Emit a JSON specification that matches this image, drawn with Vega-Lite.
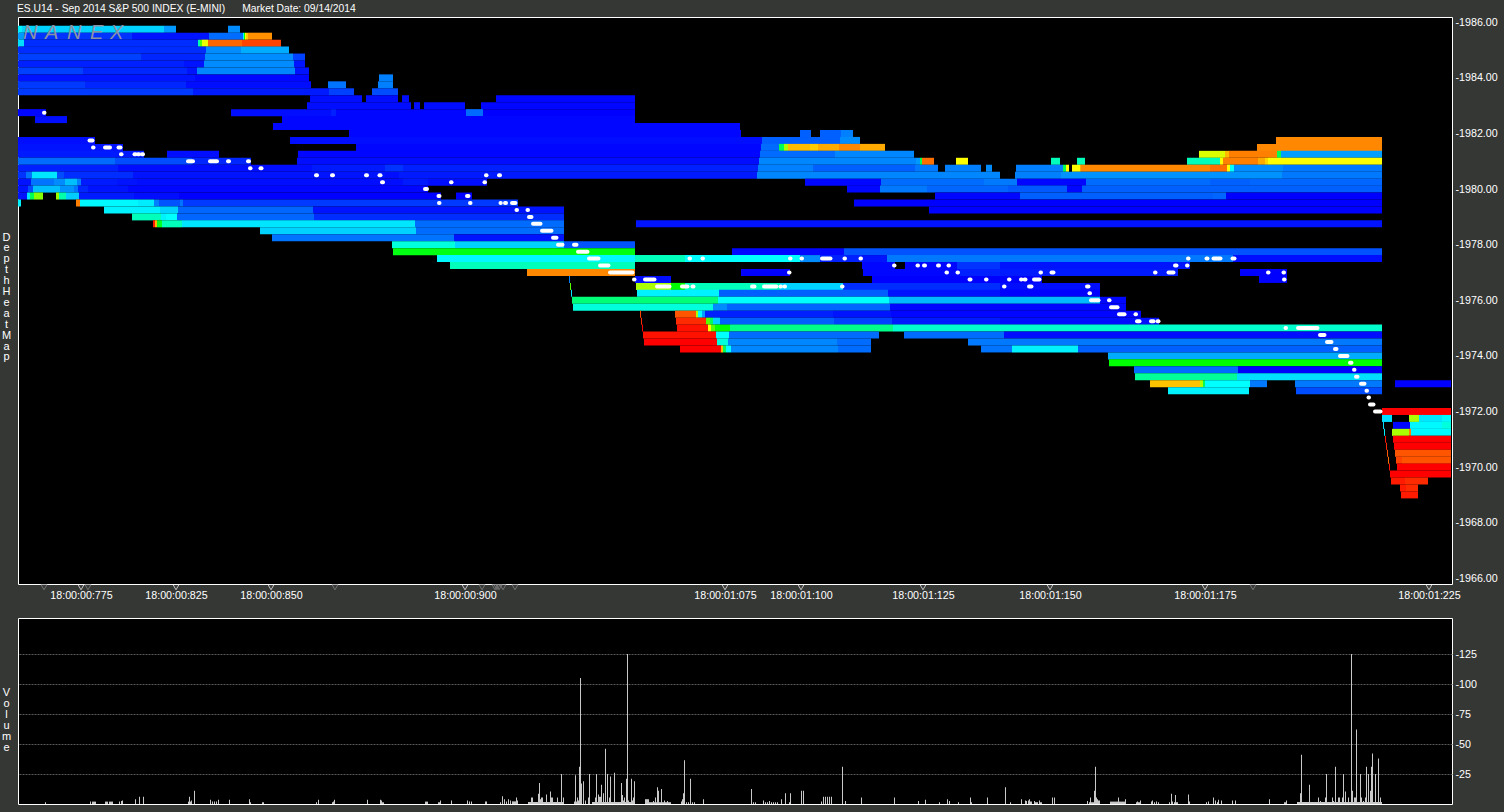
{"$schema":"https://vega.github.io/schema/vega-lite/v6.json","background":"#353735","padding":{"left":0,"top":3,"right":7,"bottom":7},"bounds":"flush","spacing":34,"config":{"view":{"fill":"#000000","stroke":"#ffffff","strokeWidth":1},"font":"Liberation Sans"},
"datasets":{
"depth":[
{"p":1985.75,"a":18,"b":22,"d":38},{"p":1985.75,"a":22,"b":164,"d":33},{"p":1985.75,"a":164,"b":176,"d":24},{"p":1985.75,"a":228,"b":240,"d":22},
{"p":1985.5,"a":18,"b":24,"d":24},{"p":1985.5,"a":24,"b":132,"d":8},{"p":1985.5,"a":132,"b":209,"d":3},{"p":1985.5,"a":209,"b":243,"d":17},{"p":1985.5,"a":243,"b":244,"d":40},{"p":1985.5,"a":244,"b":245,"d":55},{"p":1985.5,"a":245,"b":246,"d":70},{"p":1985.5,"a":246,"b":248,"d":76},{"p":1985.5,"a":248,"b":272,"d":83},
{"p":1985.25,"a":18,"b":24,"d":35},{"p":1985.25,"a":24,"b":198,"d":7},{"p":1985.25,"a":198,"b":200,"d":45},{"p":1985.25,"a":200,"b":202,"d":60},{"p":1985.25,"a":202,"b":208,"d":69},{"p":1985.25,"a":208,"b":242,"d":88},{"p":1985.25,"a":242,"b":281,"d":92},
{"p":1985,"a":18,"b":206,"d":7},{"p":1985,"a":206,"b":241,"d":22},{"p":1985,"a":241,"b":289,"d":27},
{"p":1984.75,"a":18,"b":141,"d":10},{"p":1984.75,"a":141,"b":205,"d":6},{"p":1984.75,"a":205,"b":293,"d":22},{"p":1984.75,"a":293,"b":305,"d":10},
{"p":1984.5,"a":18,"b":184,"d":5},{"p":1984.5,"a":184,"b":204,"d":3},{"p":1984.5,"a":204,"b":294,"d":22},{"p":1984.5,"a":294,"b":305,"d":3},
{"p":1984.25,"a":18,"b":83,"d":10},{"p":1984.25,"a":83,"b":187,"d":6},{"p":1984.25,"a":187,"b":197,"d":3},{"p":1984.25,"a":197,"b":295,"d":21},{"p":1984.25,"a":295,"b":309,"d":3},
{"p":1984,"a":18,"b":195,"d":3},{"p":1984,"a":195,"b":309,"d":1},{"p":1984,"a":379,"b":393,"d":20},
{"p":1983.75,"a":18,"b":85,"d":9},{"p":1983.75,"a":85,"b":186,"d":6},{"p":1983.75,"a":186,"b":311,"d":2},{"p":1983.75,"a":328,"b":346,"d":18},{"p":1983.75,"a":378,"b":393,"d":20},
{"p":1983.5,"a":18,"b":193,"d":9},{"p":1983.5,"a":193,"b":329,"d":4},{"p":1983.5,"a":329,"b":354,"d":10},{"p":1983.5,"a":372,"b":398,"d":12},
{"p":1983.25,"a":310,"b":362,"d":2},{"p":1983.25,"a":366,"b":398,"d":2},{"p":1983.25,"a":402,"b":409,"d":2},{"p":1983.25,"a":496,"b":635,"d":1},
{"p":1983,"a":307,"b":411,"d":2},{"p":1983,"a":414,"b":420,"d":2},{"p":1983,"a":424,"b":465,"d":2},{"p":1983,"a":481,"b":635,"d":1},
{"p":1982.75,"a":18,"b":46,"d":1},{"p":1982.75,"a":231,"b":331,"d":2},{"p":1982.75,"a":331,"b":336,"d":5},{"p":1982.75,"a":336,"b":466,"d":1},{"p":1982.75,"a":466,"b":483,"d":17},{"p":1982.75,"a":483,"b":635,"d":0},
{"p":1982.5,"a":35,"b":67,"d":2},{"p":1982.5,"a":282,"b":635,"d":1},
{"p":1982.25,"a":273,"b":740,"d":1},
{"p":1982,"a":349,"b":741,"d":1},{"p":1982,"a":800,"b":811,"d":15},{"p":1982,"a":820,"b":841,"d":15},{"p":1982,"a":841,"b":853,"d":20},
{"p":1981.75,"a":18,"b":95,"d":2},{"p":1981.75,"a":290,"b":762,"d":2},{"p":1981.75,"a":762,"b":840,"d":15},{"p":1981.75,"a":840,"b":860,"d":22},{"p":1981.75,"a":1276,"b":1382,"d":84},
{"p":1981.5,"a":18,"b":123,"d":3},{"p":1981.5,"a":356,"b":761,"d":1},{"p":1981.5,"a":761,"b":779,"d":17},{"p":1981.5,"a":779,"b":784,"d":50},{"p":1981.5,"a":784,"b":788,"d":65},{"p":1981.5,"a":788,"b":810,"d":78},{"p":1981.5,"a":810,"b":818,"d":76},{"p":1981.5,"a":818,"b":839,"d":80},{"p":1981.5,"a":839,"b":860,"d":84},{"p":1981.5,"a":860,"b":885,"d":80},{"p":1981.5,"a":1257,"b":1382,"d":84},
{"p":1981.25,"a":18,"b":144,"d":4},{"p":1981.25,"a":167,"b":219,"d":2},{"p":1981.25,"a":298,"b":760,"d":1},{"p":1981.25,"a":760,"b":835,"d":17},{"p":1981.25,"a":835,"b":914,"d":21},{"p":1981.25,"a":1199,"b":1225,"d":68},{"p":1981.25,"a":1225,"b":1229,"d":78},{"p":1981.25,"a":1229,"b":1277,"d":85},{"p":1981.25,"a":1277,"b":1281,"d":50},{"p":1981.25,"a":1281,"b":1382,"d":25},
{"p":1981,"a":18,"b":115,"d":17},{"p":1981,"a":115,"b":192,"d":12},{"p":1981,"a":192,"b":251,"d":6},{"p":1981,"a":297,"b":759,"d":2},{"p":1981,"a":759,"b":916,"d":21},{"p":1981,"a":916,"b":920,"d":24},{"p":1981,"a":920,"b":922,"d":50},{"p":1981,"a":922,"b":934,"d":87},{"p":1981,"a":956,"b":968,"d":70},{"p":1981,"a":1051,"b":1060,"d":44},{"p":1981,"a":1077,"b":1085,"d":44},{"p":1981,"a":1187,"b":1220,"d":44},{"p":1981,"a":1220,"b":1223,"d":70},{"p":1981,"a":1223,"b":1258,"d":85},{"p":1981,"a":1258,"b":1265,"d":80},{"p":1981,"a":1265,"b":1268,"d":75},{"p":1981,"a":1268,"b":1382,"d":70},
{"p":1980.75,"a":18,"b":118,"d":5},{"p":1980.75,"a":118,"b":312,"d":2},{"p":1980.75,"a":312,"b":385,"d":4},{"p":1980.75,"a":385,"b":403,"d":8},{"p":1980.75,"a":403,"b":758,"d":5},{"p":1980.75,"a":758,"b":813,"d":20},{"p":1980.75,"a":813,"b":915,"d":15},{"p":1980.75,"a":915,"b":938,"d":19},{"p":1980.75,"a":945,"b":981,"d":20},{"p":1980.75,"a":986,"b":992,"d":22},{"p":1980.75,"a":1016,"b":1063,"d":20},{"p":1980.75,"a":1063,"b":1066,"d":50},{"p":1980.75,"a":1066,"b":1069,"d":70},{"p":1980.75,"a":1072,"b":1080,"d":70},{"p":1980.75,"a":1080,"b":1081,"d":80},{"p":1980.75,"a":1081,"b":1210,"d":84},{"p":1980.75,"a":1210,"b":1227,"d":87},{"p":1980.75,"a":1227,"b":1230,"d":70},{"p":1980.75,"a":1230,"b":1234,"d":40},{"p":1980.75,"a":1234,"b":1283,"d":22},{"p":1980.75,"a":1283,"b":1382,"d":19},
{"p":1980.5,"a":18,"b":26,"d":8},{"p":1980.5,"a":26,"b":32,"d":18},{"p":1980.5,"a":32,"b":57,"d":36},{"p":1980.5,"a":57,"b":64,"d":12},{"p":1980.5,"a":64,"b":133,"d":7},{"p":1980.5,"a":133,"b":385,"d":3},{"p":1980.5,"a":385,"b":399,"d":2},{"p":1980.5,"a":399,"b":757,"d":4},{"p":1980.5,"a":757,"b":1000,"d":21},{"p":1980.5,"a":1015,"b":1061,"d":20},{"p":1980.5,"a":1061,"b":1282,"d":23},{"p":1980.5,"a":1282,"b":1382,"d":19},
{"p":1980.25,"a":18,"b":31,"d":3},{"p":1980.25,"a":31,"b":54,"d":18},{"p":1980.25,"a":54,"b":65,"d":22},{"p":1980.25,"a":65,"b":77,"d":30},{"p":1980.25,"a":77,"b":81,"d":20},{"p":1980.25,"a":81,"b":117,"d":4},{"p":1980.25,"a":117,"b":137,"d":3},{"p":1980.25,"a":137,"b":403,"d":2},{"p":1980.25,"a":403,"b":428,"d":4},{"p":1980.25,"a":428,"b":487,"d":2},{"p":1980.25,"a":805,"b":881,"d":1},{"p":1980.25,"a":881,"b":984,"d":17},{"p":1980.25,"a":984,"b":1017,"d":19},{"p":1980.25,"a":1017,"b":1086,"d":1},{"p":1980.25,"a":1086,"b":1210,"d":17},{"p":1980.25,"a":1210,"b":1250,"d":15},{"p":1980.25,"a":1250,"b":1382,"d":16},
{"p":1980,"a":18,"b":28,"d":3},{"p":1980,"a":28,"b":33,"d":12},{"p":1980,"a":33,"b":60,"d":30},{"p":1980,"a":60,"b":74,"d":23},{"p":1980,"a":74,"b":78,"d":18},{"p":1980,"a":78,"b":88,"d":6},{"p":1980,"a":88,"b":128,"d":3},{"p":1980,"a":128,"b":428,"d":1},{"p":1980,"a":847,"b":880,"d":1},{"p":1980,"a":880,"b":927,"d":19},{"p":1980,"a":927,"b":1008,"d":16},{"p":1980,"a":1008,"b":1067,"d":14},{"p":1980,"a":1067,"b":1082,"d":1},{"p":1980,"a":1082,"b":1382,"d":15},
{"p":1979.75,"a":18,"b":27,"d":3},{"p":1979.75,"a":27,"b":30,"d":36},{"p":1979.75,"a":30,"b":34,"d":50},{"p":1979.75,"a":34,"b":43,"d":63},{"p":1979.75,"a":56,"b":59,"d":64},{"p":1979.75,"a":59,"b":66,"d":45},{"p":1979.75,"a":66,"b":79,"d":32},{"p":1979.75,"a":79,"b":134,"d":4},{"p":1979.75,"a":134,"b":179,"d":2},{"p":1979.75,"a":179,"b":441,"d":0},{"p":1979.75,"a":456,"b":472,"d":0},{"p":1979.75,"a":935,"b":1020,"d":1},{"p":1979.75,"a":1020,"b":1213,"d":15},{"p":1979.75,"a":1213,"b":1226,"d":16},{"p":1979.75,"a":1226,"b":1382,"d":0},
{"p":1979.5,"a":18,"b":21,"d":38},{"p":1979.5,"a":76,"b":80,"d":85},{"p":1979.5,"a":80,"b":138,"d":39},{"p":1979.5,"a":138,"b":154,"d":37},{"p":1979.5,"a":154,"b":159,"d":20},{"p":1979.5,"a":159,"b":180,"d":13},{"p":1979.5,"a":180,"b":183,"d":18},{"p":1979.5,"a":183,"b":518,"d":9},{"p":1979.5,"a":854,"b":1382,"d":0},
{"p":1979.25,"a":104,"b":160,"d":38},{"p":1979.25,"a":160,"b":178,"d":33},{"p":1979.25,"a":178,"b":313,"d":16},{"p":1979.25,"a":313,"b":564,"d":3},{"p":1979.25,"a":929,"b":1382,"d":0},
{"p":1979,"a":132,"b":161,"d":44},{"p":1979,"a":161,"b":166,"d":38},{"p":1979,"a":166,"b":177,"d":40},{"p":1979,"a":177,"b":314,"d":16},{"p":1979,"a":314,"b":564,"d":7},
{"p":1978.75,"a":153,"b":155,"d":97},{"p":1978.75,"a":155,"b":157,"d":78},{"p":1978.75,"a":157,"b":162,"d":53},{"p":1978.75,"a":162,"b":182,"d":44},{"p":1978.75,"a":182,"b":415,"d":36},{"p":1978.75,"a":415,"b":564,"d":17},{"p":1978.75,"a":636,"b":1382,"d":3},
{"p":1978.5,"a":260,"b":416,"d":33},{"p":1978.5,"a":416,"b":564,"d":17},
{"p":1978.25,"a":272,"b":454,"d":18},{"p":1978.25,"a":454,"b":564,"d":3},
{"p":1978,"a":392,"b":455,"d":42},{"p":1978,"a":455,"b":557,"d":33},{"p":1978,"a":557,"b":564,"d":30},{"p":1978,"a":564,"b":635,"d":13},
{"p":1977.75,"a":393,"b":635,"d":54},{"p":1977.75,"a":732,"b":844,"d":1},{"p":1977.75,"a":844,"b":1382,"d":13},
{"p":1977.5,"a":437,"b":635,"d":39},{"p":1977.5,"a":635,"b":685,"d":44},{"p":1977.5,"a":685,"b":800,"d":40},{"p":1977.5,"a":800,"b":820,"d":22},{"p":1977.5,"a":820,"b":862,"d":5},{"p":1977.5,"a":862,"b":887,"d":3},{"p":1977.5,"a":887,"b":1233,"d":19},{"p":1977.5,"a":1233,"b":1382,"d":2},
{"p":1977.25,"a":450,"b":635,"d":44},{"p":1977.25,"a":862,"b":895,"d":1},{"p":1977.25,"a":905,"b":957,"d":1},{"p":1977.25,"a":957,"b":1000,"d":8},{"p":1977.25,"a":1000,"b":1190,"d":3},
{"p":1977,"a":527,"b":635,"d":84},{"p":1977,"a":741,"b":790,"d":0},{"p":1977,"a":863,"b":960,"d":1},{"p":1977,"a":960,"b":1000,"d":5},{"p":1977,"a":1000,"b":1178,"d":4},{"p":1977,"a":1240,"b":1287,"d":0},
{"p":1976.75,"a":569,"b":570,"d":20},{"p":1976.75,"a":635,"b":671,"d":2},{"p":1976.75,"a":872,"b":1042,"d":0},{"p":1976.75,"a":1259,"b":1287,"d":0},
{"p":1976.5,"a":570,"b":571,"d":60},{"p":1976.5,"a":636,"b":671,"d":65},{"p":1976.5,"a":671,"b":685,"d":55},{"p":1976.5,"a":685,"b":780,"d":44},{"p":1976.5,"a":780,"b":843,"d":33},{"p":1976.5,"a":843,"b":1000,"d":7},{"p":1976.5,"a":1000,"b":1100,"d":2},
{"p":1976.25,"a":571,"b":572,"d":36},{"p":1976.25,"a":637,"b":719,"d":38},{"p":1976.25,"a":719,"b":888,"d":15},{"p":1976.25,"a":888,"b":1000,"d":3},{"p":1976.25,"a":1000,"b":1100,"d":0},
{"p":1976,"a":572,"b":718,"d":48},{"p":1976,"a":718,"b":889,"d":40},{"p":1976,"a":889,"b":1100,"d":29},{"p":1976,"a":1100,"b":1126,"d":1},
{"p":1975.75,"a":573,"b":713,"d":42},{"p":1975.75,"a":713,"b":727,"d":22},{"p":1975.75,"a":727,"b":890,"d":16},{"p":1975.75,"a":890,"b":1126,"d":1},
{"p":1975.5,"a":640,"b":641,"d":92},{"p":1975.5,"a":675,"b":696,"d":90},{"p":1975.5,"a":696,"b":698,"d":65},{"p":1975.5,"a":698,"b":702,"d":40},{"p":1975.5,"a":702,"b":705,"d":25},{"p":1975.5,"a":705,"b":833,"d":5},{"p":1975.5,"a":833,"b":891,"d":3},{"p":1975.5,"a":891,"b":1141,"d":1},
{"p":1975.25,"a":641,"b":642,"d":95},{"p":1975.25,"a":676,"b":706,"d":95},{"p":1975.25,"a":706,"b":710,"d":60},{"p":1975.25,"a":710,"b":713,"d":50},{"p":1975.25,"a":713,"b":720,"d":33},{"p":1975.25,"a":720,"b":834,"d":15},{"p":1975.25,"a":834,"b":892,"d":10},{"p":1975.25,"a":892,"b":1000,"d":4},{"p":1975.25,"a":1000,"b":1159,"d":2},
{"p":1975,"a":642,"b":643,"d":100},{"p":1975,"a":677,"b":708,"d":98},{"p":1975,"a":708,"b":711,"d":70},{"p":1975,"a":711,"b":715,"d":60},{"p":1975,"a":715,"b":730,"d":55},{"p":1975,"a":730,"b":893,"d":47},{"p":1975,"a":893,"b":1382,"d":43},
{"p":1974.75,"a":643,"b":716,"d":98},{"p":1974.75,"a":716,"b":729,"d":40},{"p":1974.75,"a":729,"b":879,"d":17},{"p":1974.75,"a":904,"b":1004,"d":17},{"p":1974.75,"a":1004,"b":1382,"d":2},
{"p":1974.5,"a":644,"b":717,"d":100},{"p":1974.5,"a":717,"b":728,"d":42},{"p":1974.5,"a":728,"b":837,"d":21},{"p":1974.5,"a":837,"b":871,"d":17},{"p":1974.5,"a":968,"b":1382,"d":19},
{"p":1974.25,"a":680,"b":721,"d":100},{"p":1974.25,"a":721,"b":723,"d":78},{"p":1974.25,"a":723,"b":726,"d":50},{"p":1974.25,"a":726,"b":731,"d":40},{"p":1974.25,"a":731,"b":838,"d":21},{"p":1974.25,"a":838,"b":871,"d":17},{"p":1974.25,"a":981,"b":1012,"d":18},{"p":1974.25,"a":1012,"b":1078,"d":38},{"p":1974.25,"a":1078,"b":1382,"d":15},
{"p":1974,"a":1108,"b":1382,"d":27},
{"p":1973.75,"a":1109,"b":1382,"d":55},
{"p":1973.5,"a":1134,"b":1238,"d":17},{"p":1973.5,"a":1238,"b":1382,"d":0},
{"p":1973.25,"a":1135,"b":1237,"d":46},{"p":1973.25,"a":1237,"b":1382,"d":35},
{"p":1973,"a":1150,"b":1200,"d":77},{"p":1973,"a":1200,"b":1203,"d":65},{"p":1973,"a":1203,"b":1205,"d":50},{"p":1973,"a":1205,"b":1250,"d":40},{"p":1973,"a":1250,"b":1267,"d":19},{"p":1973,"a":1295,"b":1382,"d":19},{"p":1973,"a":1395,"b":1451,"d":0},
{"p":1972.75,"a":1168,"b":1249,"d":38},{"p":1972.75,"a":1296,"b":1382,"d":12},
{"p":1972,"a":1382,"b":1451,"d":100},
{"p":1971.75,"a":1382,"b":1392,"d":35},{"p":1971.75,"a":1409,"b":1419,"d":65},{"p":1971.75,"a":1419,"b":1442,"d":36},{"p":1971.75,"a":1442,"b":1451,"d":39},
{"p":1971.5,"a":1383,"b":1384,"d":35},{"p":1971.5,"a":1393,"b":1410,"d":1},{"p":1971.5,"a":1410,"b":1442,"d":39},{"p":1971.5,"a":1442,"b":1451,"d":42},
{"p":1971.25,"a":1384,"b":1385,"d":38},{"p":1971.25,"a":1392,"b":1409,"d":65},{"p":1971.25,"a":1409,"b":1411,"d":85},{"p":1971.25,"a":1411,"b":1451,"d":39},
{"p":1971,"a":1385,"b":1386,"d":98},{"p":1971,"a":1393,"b":1451,"d":100},
{"p":1970.75,"a":1386,"b":1387,"d":95},{"p":1970.75,"a":1394,"b":1451,"d":100},
{"p":1970.5,"a":1387,"b":1388,"d":90},{"p":1970.5,"a":1395,"b":1451,"d":90},
{"p":1970.25,"a":1388,"b":1389,"d":87},{"p":1970.25,"a":1396,"b":1402,"d":92},{"p":1970.25,"a":1402,"b":1451,"d":90},
{"p":1970,"a":1389,"b":1390,"d":98},{"p":1970,"a":1397,"b":1451,"d":100},
{"p":1969.75,"a":1390,"b":1451,"d":100},
{"p":1969.5,"a":1391,"b":1405,"d":97},{"p":1969.5,"a":1405,"b":1428,"d":95},
{"p":1969.25,"a":1400,"b":1406,"d":97},{"p":1969.25,"a":1406,"b":1418,"d":95},
{"p":1969,"a":1401,"b":1418,"d":97}
],
"trades":[
{"p":1982.75,"a":44,"b":44.5},{"p":1981.75,"a":89.5,"b":92.5},{"p":1981.5,"a":93,"b":93.5},{"p":1981.5,"a":105,"b":110},{"p":1981.5,"a":118.5,"b":120.5},{"p":1981.25,"a":121,"b":121.5},{"p":1981.25,"a":134.5,"b":135.5},{"p":1981.25,"a":138,"b":139},{"p":1981.25,"a":142,"b":143},
{"p":1981,"a":188,"b":193},{"p":1981,"a":210,"b":217},{"p":1981,"a":228,"b":229},{"p":1981,"a":248,"b":249},{"p":1980.75,"a":250,"b":250.5},{"p":1980.75,"a":260.5,"b":261.5},{"p":1980.5,"a":316,"b":317},{"p":1980.5,"a":332,"b":333},{"p":1980.5,"a":366,"b":367},{"p":1980.5,"a":379.5,"b":380.5},{"p":1980.5,"a":486,"b":486.5},{"p":1980.5,"a":499,"b":500},
{"p":1980.25,"a":382,"b":383},{"p":1980.25,"a":451,"b":451.5},{"p":1980.25,"a":484.5,"b":485},{"p":1980,"a":425,"b":427},{"p":1979.75,"a":438.5,"b":439.5},{"p":1979.75,"a":467,"b":468.5},{"p":1979.5,"a":439,"b":439.5},{"p":1979.5,"a":470,"b":470.5},{"p":1979.5,"a":500.5,"b":500.8},{"p":1979.5,"a":505,"b":506},{"p":1979.5,"a":512,"b":515.5},
{"p":1979.25,"a":516.5,"b":517},{"p":1979.25,"a":527.5,"b":528},{"p":1979,"a":529,"b":531.5},{"p":1978.75,"a":533,"b":540.5},{"p":1978.5,"a":542,"b":551.5},{"p":1978.25,"a":553,"b":556.5},{"p":1978,"a":558,"b":562.5},{"p":1978,"a":574,"b":576.5},{"p":1977.75,"a":578,"b":587.5},{"p":1977.5,"a":589,"b":598.5},{"p":1977.25,"a":600,"b":608.5},{"p":1977,"a":610,"b":632.5},
{"p":1977.5,"a":689.5,"b":690},{"p":1977.5,"a":702.5,"b":703},{"p":1977.5,"a":790,"b":790.5},{"p":1977.5,"a":801.5,"b":802},{"p":1977.5,"a":822,"b":830.5},{"p":1977.5,"a":844.5,"b":845},{"p":1977.5,"a":860.5,"b":861},{"p":1977.5,"a":1188,"b":1188.5},{"p":1977.5,"a":1206.5,"b":1207.5},{"p":1977.5,"a":1213.5,"b":1220.5},{"p":1977.5,"a":1232.5,"b":1234.5},
{"p":1977.25,"a":894,"b":894.5},{"p":1977.25,"a":917.5,"b":918},{"p":1977.25,"a":924,"b":925},{"p":1977.25,"a":938,"b":939},{"p":1977.25,"a":948.5,"b":949},{"p":1977.25,"a":1175,"b":1176.5},{"p":1977.25,"a":1187,"b":1187.5},
{"p":1977,"a":789,"b":789.5},{"p":1977,"a":946.5,"b":947},{"p":1977,"a":957.5,"b":958},{"p":1977,"a":1040.5,"b":1041},{"p":1977,"a":1051.5,"b":1053.5},{"p":1977,"a":1155,"b":1155.5},{"p":1977,"a":1168.5,"b":1173.5},{"p":1977,"a":1268,"b":1268.5},{"p":1977,"a":1283.5,"b":1284},
{"p":1976.75,"a":634,"b":634.5},{"p":1976.75,"a":645,"b":654.5},{"p":1976.75,"a":969.5,"b":970.5},{"p":1976.75,"a":986,"b":986.5},{"p":1976.75,"a":1009,"b":1009.5},{"p":1976.75,"a":1021,"b":1021.5},{"p":1976.75,"a":1024.5,"b":1025.5},{"p":1976.75,"a":1034,"b":1039.5},{"p":1976.75,"a":1284,"b":1284.5},
{"p":1976.5,"a":657,"b":669.5},{"p":1976.5,"a":682,"b":687.5},{"p":1976.5,"a":692.5,"b":693.5},{"p":1976.5,"a":752,"b":754.5},{"p":1976.5,"a":764,"b":776.5},{"p":1976.5,"a":780.5,"b":781},{"p":1976.5,"a":784.5,"b":785},{"p":1976.5,"a":842,"b":842.5},{"p":1976.5,"a":1004,"b":1004.5},{"p":1976.5,"a":1029,"b":1031.5},{"p":1976.5,"a":1087,"b":1088.5},
{"p":1976.25,"a":1089.5,"b":1090},{"p":1976,"a":1091,"b":1098.5},{"p":1976,"a":1109,"b":1109.5},{"p":1975.75,"a":1111,"b":1117.5},{"p":1975.5,"a":1119,"b":1124.5},{"p":1975.5,"a":1135.5,"b":1136},{"p":1975.25,"a":1137,"b":1139.5},{"p":1975.25,"a":1151,"b":1153.5},{"p":1975.25,"a":1157.5,"b":1158.5},
{"p":1975,"a":1285.5,"b":1286},{"p":1975,"a":1298,"b":1317.5},{"p":1974.75,"a":1320,"b":1324.5},{"p":1974.5,"a":1327,"b":1331.5},{"p":1974.25,"a":1335,"b":1336.5},{"p":1974,"a":1340,"b":1347.5},{"p":1973.75,"a":1350,"b":1351.5},{"p":1973.5,"a":1354,"b":1354.5},{"p":1973.25,"a":1356,"b":1357.5},{"p":1973,"a":1361,"b":1364.5},{"p":1972.75,"a":1366.5,"b":1367},{"p":1972.5,"a":1368.5,"b":1369},{"p":1972.25,"a":1370,"b":1373.5},{"p":1972,"a":1375,"b":1380.5}
],
"vol":[
{"a":45,"b":46,"v":1.5},{"a":90,"b":91,"v":2},{"a":92,"b":96,"v":2},{"a":105,"b":108,"v":2},{"a":109,"b":113,"v":2},{"a":119,"b":120,"v":2},{"a":121,"b":122,"v":2.5},{"a":122,"b":123,"v":3},{"a":135,"b":136,"v":4},{"a":139,"b":140,"v":6},{"a":143,"b":144,"v":6},{"a":188,"b":192,"v":2},{"a":189,"b":190,"v":6},{"a":191,"b":192,"v":3},{"a":194,"b":195,"v":11},{"a":210,"b":211,"v":3.5},{"a":212,"b":213,"v":2},{"a":214,"b":215,"v":2},{"a":216,"b":217,"v":2},{"a":218,"b":219,"v":3.5},{"a":229,"b":230,"v":3.5},{"a":249,"b":250,"v":4},{"a":250,"b":251,"v":1.5},{"a":262,"b":264,"v":1.5},{"a":316,"b":317,"v":1.5},{"a":318,"b":319,"v":3.5},{"a":332,"b":333,"v":1.5},{"a":333,"b":334,"v":2},{"a":334,"b":335,"v":3.5},{"a":367,"b":368,"v":3.5},{"a":380,"b":381,"v":3.5},{"a":381,"b":382,"v":3},{"a":382,"b":384,"v":1.5},{"a":425,"b":428,"v":2},{"a":438,"b":440,"v":1.5},{"a":440,"b":441,"v":3},{"a":451,"b":452,"v":3},{"a":467,"b":468,"v":3},{"a":469,"b":470,"v":2},{"a":471,"b":472,"v":2},{"a":485,"b":487,"v":2},
{"a":500,"b":501,"v":1.5},{"a":502,"b":503,"v":6.5},{"a":504,"b":505,"v":4},{"a":506,"b":507,"v":2},{"a":508,"b":509,"v":4},{"a":510,"b":511,"v":3},{"a":512,"b":516,"v":2.2},{"a":516,"b":517,"v":5.5},{"a":517,"b":518,"v":3},
{"a":528,"b":564,"v":1.7},{"a":531,"b":533,"v":5.5},{"a":538,"b":539,"v":8.5},{"a":539,"b":540,"v":17.5},{"a":540,"b":541,"v":4},{"a":541,"b":543,"v":5.5},{"a":546,"b":547,"v":8},{"a":550,"b":551,"v":10.5},{"a":551,"b":553,"v":5.5},{"a":557,"b":558,"v":5.5},{"a":561,"b":562,"v":25},{"a":563,"b":564,"v":5.5},
{"a":574,"b":581,"v":2},{"a":575,"b":576,"v":24},{"a":577,"b":578,"v":5.5},{"a":578,"b":579,"v":3},{"a":579,"b":580,"v":31},{"a":580,"b":581,"v":105},{"a":581,"b":582,"v":17},{"a":583,"b":584,"v":19},{"a":585,"b":586,"v":3},{"a":588,"b":589,"v":5.5},{"a":589,"b":590,"v":25},
{"a":592,"b":635,"v":1.7},{"a":595,"b":596,"v":5.5},{"a":596,"b":597,"v":25},{"a":598,"b":599,"v":8},{"a":599,"b":601,"v":6},{"a":601,"b":602,"v":16},{"a":603,"b":604,"v":9},{"a":605,"b":606,"v":46},{"a":607,"b":608,"v":25},{"a":609,"b":610,"v":5.5},{"a":610,"b":611,"v":23},{"a":614,"b":615,"v":26},{"a":621,"b":622,"v":17.5},{"a":622,"b":623,"v":7.5},{"a":623,"b":624,"v":3},{"a":624,"b":625,"v":5.5},{"a":626,"b":627,"v":21},{"a":627,"b":628,"v":125},{"a":628,"b":629,"v":3},{"a":631,"b":632,"v":21},{"a":632,"b":633,"v":3},{"a":633,"b":634,"v":5.5},{"a":634,"b":635,"v":19},
{"a":645,"b":671,"v":1.5},{"a":645,"b":648,"v":4},{"a":648,"b":649,"v":4},{"a":653,"b":654,"v":2.5},{"a":655,"b":656,"v":5.5},{"a":657,"b":658,"v":14},{"a":658,"b":659,"v":11},{"a":661,"b":662,"v":12.5},{"a":664,"b":665,"v":3},{"a":667,"b":668,"v":2.5},
{"a":681,"b":682,"v":2},{"a":682,"b":683,"v":4},{"a":683,"b":684,"v":9},{"a":684,"b":685,"v":36.5},{"a":686,"b":687,"v":1.5},{"a":688,"b":689,"v":1.5},{"a":690,"b":691,"v":21},{"a":692,"b":693,"v":1.5},{"a":694,"b":695,"v":1.5},{"a":703,"b":704,"v":4},{"a":751,"b":752,"v":12.5},{"a":753,"b":754,"v":1.5},{"a":755,"b":756,"v":1.5},{"a":763,"b":764,"v":3},{"a":765,"b":766,"v":1.5},{"a":767,"b":768,"v":1.5},{"a":769,"b":770,"v":2.5},{"a":771,"b":772,"v":1.5},{"a":773,"b":774,"v":1.5},{"a":775,"b":776,"v":1.5},{"a":777,"b":778,"v":1.5},{"a":781,"b":782,"v":4},{"a":785,"b":786,"v":9},{"a":789,"b":790,"v":1.5},{"a":790,"b":791,"v":9},{"a":801,"b":802,"v":11},{"a":803,"b":804,"v":11},{"a":821,"b":822,"v":2},{"a":823,"b":824,"v":6},{"a":825,"b":826,"v":6},{"a":827,"b":828,"v":6},{"a":829,"b":830,"v":6},{"a":831,"b":832,"v":6},{"a":842,"b":843,"v":31},{"a":845,"b":846,"v":2.5},{"a":861,"b":862,"v":5.5},{"a":894,"b":895,"v":5.5},{"a":918,"b":919,"v":2.5},{"a":925,"b":926,"v":3.5},{"a":939,"b":940,"v":1.5},{"a":947,"b":948,"v":4},{"a":949,"b":950,"v":2.5},{"a":958,"b":959,"v":1.5},{"a":970,"b":971,"v":5.5},{"a":971,"b":972,"v":1.5},{"a":987,"b":988,"v":5.5},
{"a":1005,"b":1006,"v":14},{"a":1010,"b":1011,"v":1.5},{"a":1021,"b":1022,"v":4},{"a":1025,"b":1026,"v":3},{"a":1026,"b":1027,"v":2.5},{"a":1028,"b":1029,"v":3},{"a":1029,"b":1030,"v":4},{"a":1030,"b":1032,"v":2},{"a":1034,"b":1035,"v":2.5},{"a":1035,"b":1038,"v":1.5},{"a":1039,"b":1040,"v":3},{"a":1040,"b":1042,"v":1.5},{"a":1052,"b":1053,"v":5.5},{"a":1054,"b":1055,"v":5.5},{"a":1087,"b":1088,"v":2.5},{"a":1089,"b":1090,"v":1.5},{"a":1090,"b":1091,"v":5.5},{"a":1091,"b":1094,"v":1.5},{"a":1094,"b":1095,"v":11},{"a":1095,"b":1096,"v":31},{"a":1096,"b":1097,"v":5.5},{"a":1097,"b":1098,"v":4},{"a":1098,"b":1100,"v":3},
{"a":1110,"b":1126,"v":2},{"a":1118,"b":1119,"v":5.5},{"a":1125,"b":1126,"v":4},{"a":1136,"b":1137,"v":1.5},{"a":1137,"b":1138,"v":2},{"a":1138,"b":1140,"v":1.5},{"a":1140,"b":1141,"v":3},{"a":1151,"b":1152,"v":2},{"a":1152,"b":1153,"v":3},{"a":1154,"b":1155,"v":1.5},{"a":1156,"b":1157,"v":2},{"a":1158,"b":1159,"v":1.5},{"a":1169,"b":1170,"v":1.5},{"a":1171,"b":1172,"v":8.5},{"a":1172,"b":1173,"v":2},{"a":1174,"b":1178,"v":1.5},{"a":1175,"b":1176,"v":7.5},{"a":1188,"b":1189,"v":8},{"a":1189,"b":1190,"v":2},{"a":1206,"b":1207,"v":1.5},{"a":1208,"b":1209,"v":2},{"a":1213,"b":1214,"v":5.5},{"a":1215,"b":1216,"v":3},{"a":1217,"b":1218,"v":1.5},{"a":1218,"b":1219,"v":3.5},{"a":1221,"b":1222,"v":3},{"a":1232,"b":1233,"v":3},{"a":1235,"b":1236,"v":3},{"a":1269,"b":1270,"v":4},{"a":1284,"b":1286,"v":1.5},{"a":1286,"b":1287,"v":3},
{"a":1297,"b":1382,"v":1.7},{"a":1300,"b":1301,"v":9},{"a":1301,"b":1302,"v":41},{"a":1309,"b":1310,"v":16},{"a":1318,"b":1319,"v":5.5},{"a":1320,"b":1321,"v":2.5},{"a":1325,"b":1326,"v":5.5},{"a":1326,"b":1327,"v":25},{"a":1332,"b":1333,"v":5.5},{"a":1333,"b":1334,"v":2.5},{"a":1335,"b":1336,"v":31},{"a":1338,"b":1340,"v":5.5},{"a":1342,"b":1343,"v":5.5},{"a":1343,"b":1344,"v":25},{"a":1345,"b":1346,"v":10.5},{"a":1348,"b":1349,"v":5.5},{"a":1351,"b":1352,"v":125},{"a":1352,"b":1353,"v":11},{"a":1354,"b":1356,"v":5.5},{"a":1356,"b":1357,"v":62},{"a":1360,"b":1361,"v":25},{"a":1361,"b":1362,"v":5.5},{"a":1363,"b":1364,"v":2.5},{"a":1365,"b":1366,"v":5.5},{"a":1366,"b":1367,"v":31},{"a":1368,"b":1369,"v":25},{"a":1370,"b":1371,"v":11},{"a":1371,"b":1372,"v":31},{"a":1372,"b":1373,"v":42},{"a":1375,"b":1376,"v":25},{"a":1378,"b":1379,"v":38},{"a":1380,"b":1381,"v":5.5}
],
"marks":[
{"a":44,"p":1965.68,"kind":"minor"},{"a":81,"p":1965.68,"kind":"major"},{"a":88,"p":1965.68,"kind":"minor"},{"a":176,"p":1965.68,"kind":"major"},{"a":271,"p":1965.68,"kind":"major"},{"a":335,"p":1965.68,"kind":"minor"},{"a":465,"p":1965.68,"kind":"major"},{"a":482,"p":1965.68,"kind":"minor"},{"a":495,"p":1965.68,"kind":"minor"},{"a":497,"p":1965.68,"kind":"minor"},{"a":499,"p":1965.68,"kind":"minor"},{"a":503,"p":1965.68,"kind":"minor"},{"a":515,"p":1965.68,"kind":"minor"},{"a":725,"p":1965.68,"kind":"major"},{"a":801,"p":1965.68,"kind":"major"},{"a":923,"p":1965.68,"kind":"major"},{"a":1050,"p":1965.68,"kind":"major"},{"a":1205,"p":1965.68,"kind":"major"},{"a":1253,"p":1965.68,"kind":"minor"},{"a":1429,"p":1965.68,"kind":"major"}
],
"logo":[
{"a":23,"p":1985.6,"ch":"N"},{"a":45,"p":1985.6,"ch":"A"},{"a":67,"p":1985.6,"ch":"N"},{"a":90,"p":1985.6,"ch":"E"},{"a":110,"p":1985.6,"ch":"X"}
]
},
"vconcat":[
{"width":1434,"height":567,
"title":{"text":"ES.U14 - Sep 2014 S&P 500 INDEX (E-MINI)\u00a0\u00a0\u00a0\u00a0\u00a0\u00a0Market Date: 09/14/2014","anchor":"start","frame":"group","dx":-1,"offset":2,"font":"Liberation Sans","fontSize":10.3,"fontWeight":"normal","color":"#ffffff"},
"layer":[
{"data":{"name":"depth"},"mark":{"type":"bar","orient":"horizontal","size":7},
"encoding":{
"x":{"field":"a","type":"quantitative","scale":{"domain":[18,1452],"nice":false,"zero":false,"padding":0},"title":null,
"axis":{"orient":"bottom","values":[81,176,271,465,725,801,923,1050,1205,1429],"labelExpr":"{'81':'18:00:00:775','176':'18:00:00:825','271':'18:00:00:850','465':'18:00:00:900','725':'18:00:01:075','801':'18:00:01:100','923':'18:00:01:125','1050':'18:00:01:150','1205':'18:00:01:175','1429':'18:00:01:225'}[datum.value]","ticks":false,"domain":false,"grid":false,"labelColor":"#ffffff","labelFontSize":10.7,"labelFont":"Liberation Sans","labelPadding":6,"labelOverlap":false,"labelFlush":false}},
"x2":{"field":"b"},
"y":{"field":"p","type":"quantitative","scale":{"domain":[1965.795,1986.19],"nice":false,"zero":false,"padding":0},
"axis":{"orient":"right","values":[1966,1968,1970,1972,1974,1976,1978,1980,1982,1984,1986],"labelExpr":"'-'+format(datum.value,'.2f')","ticks":false,"domain":false,"grid":false,"labelColor":"#ffffff","labelFontSize":10.7,"labelFont":"Liberation Sans","labelPadding":3,
"title":["D","e","p","t","h","\u00a0","H","e","a","t","\u00a0","M","a","p"],"titleColor":"#ffffff","titleFontSize":11,"titleFont":"Liberation Sans","titleFontWeight":"normal","titleAngle":0,"titleAlign":"center","titleBaseline":"top","titleLineHeight":10.9,"titleX":-1446,"titleY":214}},
"color":{"field":"d","type":"quantitative","legend":null,"scale":{"domain":[0,40,55,70,85,100],"range":["#0000ff","#00ffff","#00ff00","#ffff00","#ff8000","#ff0000"],"interpolate":"rgb"}}}},
{"data":{"name":"trades"},"mark":{"type":"rule","strokeWidth":4,"strokeCap":"round","color":"#ffffff"},
"encoding":{"x":{"field":"a","type":"quantitative"},"x2":{"field":"b"},"y":{"field":"p","type":"quantitative"}}},
{"data":{"name":"logo"},"mark":{"type":"text","align":"left","baseline":"middle","font":"Liberation Sans","fontSize":20,"fontStyle":"italic","color":"#8a93a3"},
"encoding":{"x":{"field":"a","type":"quantitative"},"y":{"field":"p","type":"quantitative"},"text":{"field":"ch"}}},
{"data":{"name":"marks"},"mark":{"type":"point","shape":"triangle-down","size":36,"filled":false,"strokeWidth":1},
"encoding":{"x":{"field":"a","type":"quantitative"},"y":{"field":"p","type":"quantitative"},
"stroke":{"field":"kind","type":"nominal","legend":null,"scale":{"domain":["major","minor"],"range":["#ffffff","#8c8c8c"]}}}}
]},
{"width":1434,"height":186,"data":{"name":"vol"},"mark":{"type":"rect","color":"#c8c8c8"},
"encoding":{
"x":{"field":"a","type":"quantitative","scale":{"domain":[18,1452],"nice":false,"zero":false,"padding":0},"axis":null},
"x2":{"field":"b"},
"y":{"field":"v","type":"quantitative","scale":{"domain":[0,155],"nice":false,"zero":false,"padding":0},
"axis":{"orient":"right","values":[25,50,75,100,125],"labelExpr":"'-'+format(datum.value,'d')","ticks":false,"domain":false,"grid":true,"gridColor":"#5a5a5a","gridDash":[2,1],"gridWidth":1,"labelColor":"#ffffff","labelFontSize":10.7,"labelFont":"Liberation Sans","labelPadding":3,
"title":["V","o","l","u","m","e"],"titleColor":"#ffffff","titleFontSize":11,"titleFont":"Liberation Sans","titleFontWeight":"normal","titleAngle":0,"titleAlign":"center","titleBaseline":"top","titleLineHeight":11,"titleX":-1446,"titleY":68}},
"y2":{"datum":0}}}
]}
